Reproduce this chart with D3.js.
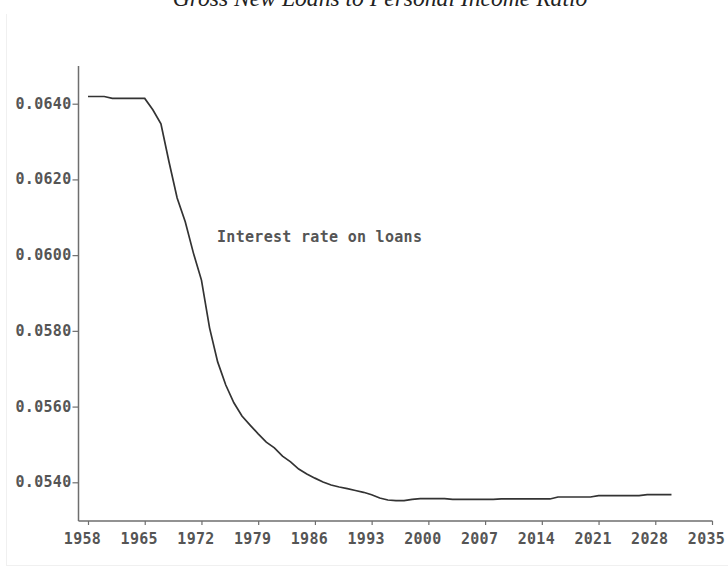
<!DOCTYPE html>
<html><head><meta charset="utf-8">
<script src="https://cdn.jsdelivr.net/npm/d3@7"></script>
<style>
html,body{margin:0;padding:0;background:#fff;}
svg{display:block;}
</style></head>
<body>
<svg id="c" width="728" height="566"></svg>
<script>
const titleText = "Gross New Loans to Personal Income Ratio";
const seriesLabel = "Interest rate on loans";
const years = d3.range(1958, 2031);
const values = [
  0.06419, 0.06419, 0.06419, 0.06414, 0.06414, 0.06414, 0.06414, 0.06414,
  0.06384, 0.06347, 0.06246, 0.06151, 0.06088, 0.06006, 0.05934, 0.05808,
  0.05718, 0.05657, 0.05610, 0.05575, 0.05551, 0.05528, 0.05506, 0.05491,
  0.05469, 0.05454, 0.05435, 0.05422, 0.05411, 0.05401, 0.053929, 0.053876,
  0.053831, 0.053783, 0.053736, 0.053672, 0.053585, 0.053532, 0.053514, 0.053514,
  0.053551, 0.053567, 0.053567, 0.053567, 0.053567, 0.053551, 0.053551, 0.053551,
  0.053551, 0.053551, 0.053551, 0.053560, 0.053560, 0.053560, 0.053560, 0.053560,
  0.053560, 0.053560, 0.053612, 0.053612, 0.053612, 0.053612, 0.053612, 0.053646,
  0.053646, 0.053646, 0.053646, 0.053646, 0.053646, 0.053672, 0.053672, 0.053672,
  0.053672
];
const xTicks = [1958, 1965, 1972, 1979, 1986, 1993, 2000, 2007, 2014, 2021, 2028, 2035];
const yTicks = [0.0540, 0.0560, 0.0580, 0.0600, 0.0620, 0.0640];

const svg = d3.select("#c");
const axisColor = "#6e6e6e";
const textColor = "#555";
const mono = "'DejaVu Sans Mono', monospace";

// faint frame
svg.append("line").attr("x1",6.5).attr("x2",6.5).attr("y1",14).attr("y2",566)
  .attr("stroke","#f0f0f0").attr("stroke-width",1);
svg.append("line").attr("x1",6).attr("x2",728).attr("y1",565.5).attr("y2",565.5)
  .attr("stroke","#f0f0f0").attr("stroke-width",1);

const x = d3.scaleLinear().domain([1958, 2035]).range([88, 712]);
const y = d3.scaleLinear().domain([0.0540, 0.0640]).range([482.3, 103.7]);

const axLeft = 78.5, axBottom = 521, axTop = 66;

// title
svg.append("text").attr("x", 380).attr("y", 6)
  .attr("text-anchor","middle")
  .attr("font-family","'Liberation Serif', 'Times New Roman', serif")
  .attr("font-style","italic").attr("font-size", 23.6).attr("fill","#222")
  .text(titleText);

// axes
const gx = svg.append("g").attr("transform", `translate(0,${axBottom})`)
  .call(d3.axisBottom(x).tickValues(xTicks).tickFormat(d3.format("d")).tickSize(4));
const gy = svg.append("g").attr("transform", `translate(${axLeft},0)`)
  .call(d3.axisLeft(y).tickValues(yTicks).tickFormat(d3.format(".4f")).tickSize(6));
[gx, gy].forEach(g => {
  g.select(".domain").remove();
  g.selectAll(".tick line").attr("stroke", axisColor).attr("stroke-width", 1.2);
  g.selectAll(".tick text").attr("fill", textColor).attr("font-family", mono)
    .attr("font-size", 15).attr("letter-spacing", "0.3px").attr("font-weight","bold");
});
gx.selectAll(".tick text").attr("y", 23).attr("dy", 0).attr("dx", -6);
gy.selectAll(".tick text").attr("x", -7).attr("dy", "0.3em");
svg.append("line").attr("x1", axLeft).attr("x2", axLeft).attr("y1", axTop).attr("y2", axBottom)
  .attr("stroke", axisColor).attr("stroke-width", 1.5);
svg.append("line").attr("x1", axLeft).attr("x2", x(2035)+0.5).attr("y1", axBottom).attr("y2", axBottom)
  .attr("stroke", axisColor).attr("stroke-width", 1.5);

// series
const data = years.map((yr, i) => ({yr, v: values[i]}));
svg.append("path").datum(data)
  .attr("fill","none").attr("stroke","#333").attr("stroke-width",1.7)
  .attr("d", d3.line().x(d => x(d.yr)).y(d => y(d.v)));

// label
svg.append("text").attr("x", 217).attr("y", 242)
  .attr("font-family", mono).attr("font-size", 15).attr("letter-spacing","0.3px")
  .attr("font-weight","bold").attr("fill", textColor)
  .text(seriesLabel);
</script>
</body></html>
